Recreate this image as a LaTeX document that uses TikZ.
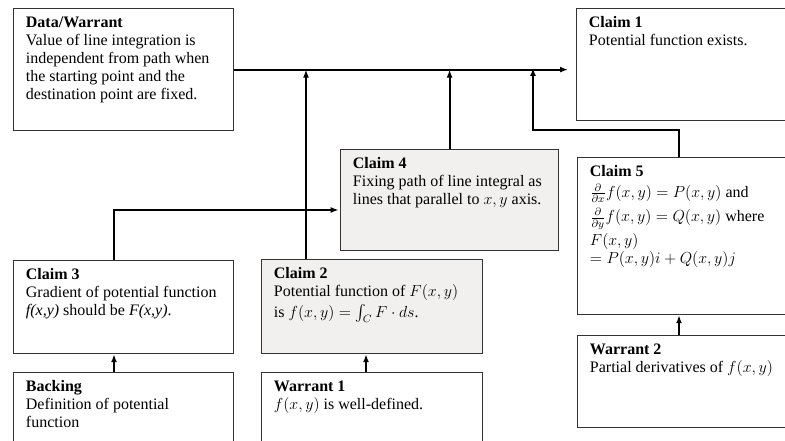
\documentclass[tikz,border=0pt]{standalone}
\usepackage{amsmath}
\usepackage{fontspec}
\setmainfont{Liberation Serif}
\usetikzlibrary{arrows.meta,calc,positioning}
\definecolor{claimgray}{RGB}{242,240,239}

\begin{document}
\begin{tikzpicture}[x=0.75pt,y=-0.75pt,
  card/.style={draw=black!80,line width=0.9pt,inner sep=0pt},
  cardtext/.style={anchor=north west,align=left,inner xsep=9.5pt,inner ysep=6.3pt,
    font=\fontsize{12}{13.5}\selectfont},
  arr/.style={line width=1.4pt,-{Latex[length=6pt,width=4.5pt]}}]
  \useasboundingbox (0,0) rectangle (785,441);
  \clip (0,0) rectangle (785,441);
  \def\card[#1](#2,#3)#4#5#6#7{
    \node[card,#1,anchor=north west,minimum width=#5*0.75pt,minimum height=#6*0.75pt] (#4) at (#2,#3) {};
    \node[cardtext] (#4-txt) at (#4.north west) {#7};
  }
  % boxes
  \card[](13,8){dw}{220}{122}{\textbf{Data/Warrant}\\ Value of line integration is\\
    independent from path when\\ the starting point and the\\ destination point are fixed.}
  \card[](576,8){c1}{230}{112}{\textbf{Claim 1}\\ Potential function exists.}
  \card[fill=claimgray](340,149){c4}{218}{101}{\textbf{Claim 4}\\ Fixing path of line integral as\\
    lines that parallel to $x,y$ axis.}
  \card[](577,157){c5}{230}{157}{\textbf{Claim 5}\\[2pt]
    $\frac{\partial}{\partial x}f(x,y)=P(x,y)$ and\\[3pt]
    $\frac{\partial}{\partial y}f(x,y)=Q(x,y)$ where\\[2pt] $F(x,y)$\\ $=P(x,y)i+Q(x,y)j$}
  \card[](13,260){c3}{220}{93}{\textbf{Claim 3}\\ Gradient of potential function\\
    \textit{f(x,y)} should be \textit{F(x,y)}.}
  \card[fill=claimgray](261,259){c2}{221}{94}{\textbf{Claim 2}\\ Potential function of $F(x,y)$\\[2pt]
    is $f(x,y)=\int_C F\cdot ds$.}
  \card[](13,372){bk}{220}{90}{\textbf{Backing}\\ Definition of potential\\ function}
  \card[](261,372){w1}{221}{90}{\textbf{Warrant 1}\\ $f(x,y)$ is well-defined.}
  \card[](577,335){w2}{230}{92}{\textbf{Warrant 2}\\ Partial derivatives of $f(x,y)$}

  % connectors
  \coordinate (j2) at ($(c2.north west)+(45,0)$);
  \coordinate (j3) at ($(c3.north west)+(101,0)$);
  \coordinate (j5) at ($(c5.north west)+(102,0)$);
  \coordinate (k4) at ($(c4.north west)+(0,61)$);
  \coordinate (m5) at (533,68);
  \draw[arr,shorten >=6pt] (dw.east) -- (dw.east -| c1.west);
  \draw[arr] (j2) -- (j2 |- dw.east);
  \draw[arr] (c4.north) -- (c4.north |- dw.east);
  \draw[arr] (j5) -- ++(0,-27) -| (m5);
  \draw[arr,shorten >=1pt] (j3) |- (k4);
  \draw[arr] (bk.north -| j3) -- (j3 |- c3.south);
  \draw[arr] ($(w1.north west)+(105,0)$) -- ($(c2.south west)+(105,0)$);
  \draw[arr] (w2.north -| j5) -- (j5 |- c5.south);
\end{tikzpicture}
\end{document}
